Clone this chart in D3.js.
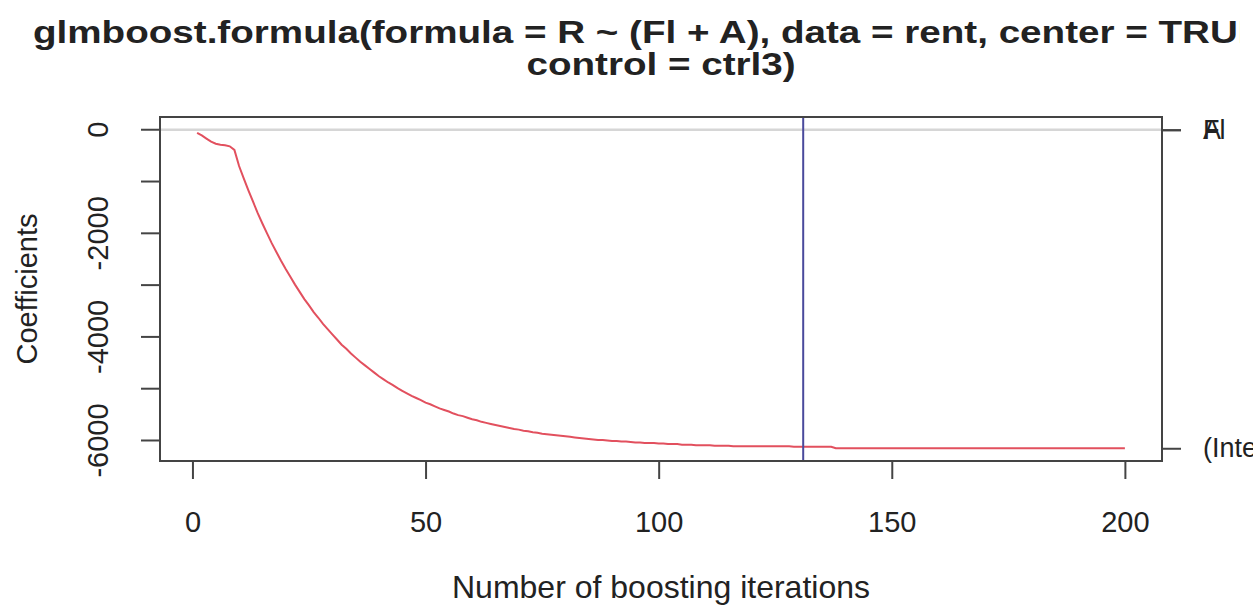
<!DOCTYPE html>
<html>
<head>
<meta charset="utf-8">
<script src="https://cdn.jsdelivr.net/npm/d3@7"></script>
<style>
  body { margin: 0; background: #fff; }
  text { font-family: "Liberation Sans", Arial, sans-serif; fill: #222; }
</style>
</head>
<body>
<div class="chart"></div>
<script>
// boosting path of the intercept, iterations 1..200
var iterations = d3.range(1, 201);
var interceptPath = [
  -60, -110, -170, -230, -270, -290, -300, -320, -390, -700,
  -940, -1170, -1390, -1610, -1810, -2000, -2190, -2360, -2530, -2690,
  -2840, -2990, -3130, -3270, -3390, -3520, -3630, -3750, -3850, -3950,
  -4050, -4150, -4230, -4320, -4400, -4480, -4550, -4620, -4690, -4760,
  -4820, -4880, -4930, -4990, -5040, -5090, -5140, -5180, -5220, -5270,
  -5300, -5340, -5380, -5410, -5440, -5480, -5510, -5530, -5560, -5590,
  -5610, -5640, -5660, -5680, -5700, -5720, -5740, -5760, -5780, -5790,
  -5810, -5820, -5840, -5850, -5870, -5880, -5890, -5900, -5910, -5920,
  -5930, -5940, -5950, -5960, -5970, -5980, -5990, -5990, -6000, -6010,
  -6010, -6020, -6020, -6030, -6040, -6040, -6050, -6050, -6050, -6060,
  -6060, -6070, -6070, -6070, -6080, -6080, -6080, -6090, -6090, -6090,
  -6090, -6100, -6100, -6100, -6100, -6110, -6110, -6110, -6110, -6110,
  -6110, -6110, -6110, -6110, -6110, -6110, -6110, -6110, -6120, -6120,
  -6120, -6120, -6120, -6120, -6120, -6120, -6120, -6150, -6150, -6150,
  -6150, -6150, -6150, -6150, -6150, -6150, -6150, -6150, -6150, -6150,
  -6150, -6150, -6150, -6150, -6150, -6150, -6150, -6150, -6150, -6150,
  -6150, -6150, -6150, -6150, -6150, -6150, -6150, -6150, -6150, -6150,
  -6150, -6150, -6150, -6150, -6150, -6150, -6150, -6150, -6150, -6150,
  -6150, -6150, -6150, -6150, -6150, -6150, -6150, -6150, -6150, -6150,
  -6150, -6150, -6150, -6150, -6150, -6150, -6150, -6150, -6150, -6150
];
var coefNames = ["Fl", "A", "(Intercept)"];
var coefFinal = [0, 0, -6150];
var mstop = 131;
var xTicks = [0, 50, 100, 150, 200];
var yTicks = [0, -1000, -2000, -3000, -4000, -5000, -6000];
var yTickLabels = ["0", "", "-2000", "", "-4000", "", "-6000"];
var titleLine1 = "glmboost.formula(formula = R ~ (Fl + A), data = rent, center = TRUE,";
var titleLine2 = "control = ctrl3)";
var xLabel = "Number of boosting iterations";
var yLabel = "Coefficients";

var w = 1253, h = 608;
var plotL = 160, plotR = 1162, plotT = 117, plotB = 461;

var svg = d3.select(".chart").append("svg")
  .attr("width", w).attr("height", h);

// R style 4% axis expansion
var xExt = d3.extent(iterations);
var xPad = (xExt[1] - xExt[0]) * 0.04;
var xScale = d3.scaleLinear()
  .domain([xExt[0] - xPad, xExt[1] + xPad])
  .range([plotL, plotR]);

var yExt = d3.extent(interceptPath.concat(coefFinal));
var yPad = (yExt[1] - yExt[0]) * 0.04;
var yScale = d3.scaleLinear()
  .domain([yExt[0] - yPad, yExt[1] + yPad])
  .range([plotB, plotT]);

// zero line
svg.append("line")
  .attr("x1", plotL).attr("x2", plotR)
  .attr("y1", yScale(0)).attr("y2", yScale(0))
  .attr("stroke", "#d6d6d6").attr("stroke-width", 2.5);

var line = d3.line()
  .x(function(d, i) { return xScale(iterations[i]); })
  .y(function(d) { return yScale(d); });

svg.append("path")
  .datum(interceptPath)
  .attr("d", line)
  .attr("fill", "none")
  .attr("stroke", "#e2505e")
  .attr("stroke-width", 2);

// mstop line
svg.append("line")
  .attr("x1", xScale(mstop)).attr("x2", xScale(mstop))
  .attr("y1", plotT).attr("y2", plotB)
  .attr("stroke", "#4a4a9c").attr("stroke-width", 2);

// box
svg.append("rect")
  .attr("x", plotL).attr("y", plotT)
  .attr("width", plotR - plotL).attr("height", plotB - plotT)
  .attr("fill", "none").attr("stroke", "#444").attr("stroke-width", 2);

// x axis
var xAxis = d3.axisBottom(xScale).tickValues(xTicks).tickSize(18).tickPadding(32).tickSizeOuter(0);
var gx = svg.append("g").attr("transform", "translate(0," + plotB + ")").call(xAxis);
gx.select(".domain").remove();
gx.selectAll("line").attr("stroke", "#444").attr("stroke-width", 2);
gx.selectAll("text").attr("font-size", 29).attr("fill", "#222")
  .attr("font-family", "Liberation Sans, Arial, sans-serif");

// y axis
var yAxis = d3.axisLeft(yScale).tickValues(yTicks).tickSize(19).tickSizeOuter(0)
  .tickFormat(function(d, i) { return yTickLabels[i]; });
var gy = svg.append("g").attr("transform", "translate(" + plotL + ",0)").call(yAxis);
gy.select(".domain").remove();
gy.selectAll("line").attr("stroke", "#444").attr("stroke-width", 2);
gy.selectAll(".tick").attr("transform", null);
gy.selectAll(".tick line").attr("y1", function(d) { return yScale(d); }).attr("y2", function(d) { return yScale(d); });
gy.selectAll("text")
  .attr("font-size", 29).attr("fill", "#222")
  .attr("font-family", "Liberation Sans, Arial, sans-serif")
  .attr("x", null).attr("dy", null)
  .attr("text-anchor", "middle")
  .attr("transform", function(d) { return "translate(-52," + yScale(d) + ") rotate(-90)"; });

// right axis with coefficient names
var yAxisR = d3.axisRight(yScale).tickValues(coefFinal).tickSize(19).tickPadding(22).tickSizeOuter(0)
  .tickFormat(function(d, i) { return coefNames[i]; });
var gr = svg.append("g").attr("transform", "translate(" + plotR + ",0)").call(yAxisR);
gr.select(".domain").remove();
gr.selectAll("line").attr("stroke", "#444").attr("stroke-width", 2);
gr.selectAll("text").attr("font-size", 27).attr("fill", "#222")
  .attr("font-family", "Liberation Sans, Arial, sans-serif");

// axis titles
svg.append("text")
  .attr("x", (plotL + plotR) / 2).attr("y", 598)
  .attr("text-anchor", "middle").attr("font-size", 32)
  .text(xLabel);

svg.append("text")
  .attr("transform", "translate(37," + (plotT + plotB) / 2 + ") rotate(-90)")
  .attr("text-anchor", "middle").attr("font-size", 29)
  .text(yLabel);

// title, clipped at the device edge, stretched sideways like the source
svg.append("clipPath").attr("id", "titleClip")
  .append("rect").attr("x", 0).attr("y", 0).attr("width", 1240).attr("height", 100);

var titleSize = 31;
var tg = svg.append("g").attr("clip-path", "url(#titleClip)");
var probe = tg.append("text").attr("font-size", titleSize).attr("font-weight", "bold")
  .text(titleLine1.slice(0, titleLine1.indexOf("TRU") + 3));
var sx = 1205 / probe.node().getComputedTextLength();
probe.remove();

tg.append("text")
  .attr("transform", "translate(33,43) scale(" + sx + ",1)")
  .attr("font-size", titleSize).attr("font-weight", "bold").attr("fill", "#111")
  .text(titleLine1);

tg.append("text")
  .attr("transform", "translate(" + (plotL + plotR) / 2 + ",75) scale(" + sx + ",1)")
  .attr("text-anchor", "middle")
  .attr("font-size", titleSize).attr("font-weight", "bold").attr("fill", "#111")
  .text(titleLine2);
</script>
</body>
</html>
